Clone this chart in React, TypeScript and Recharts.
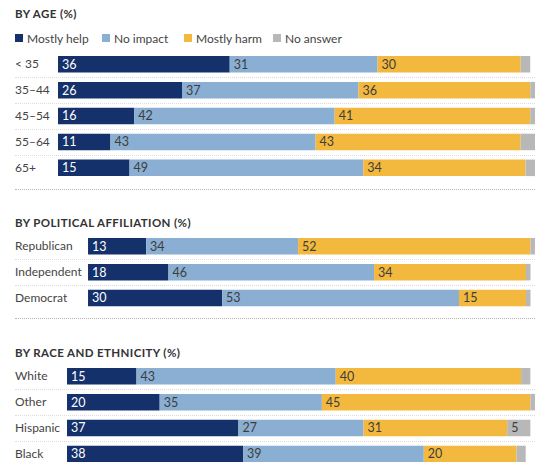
import React from "react";
import { BarChart, Bar, XAxis, YAxis, LabelList } from "recharts";

// ─── Data ───
const ageCategories = ["< 35", "35–44", "45–54", "55–64", "65+"];
const ageHelp = [36, 26, 16, 11, 15];
const ageNoImpact = [31, 37, 42, 43, 49];
const ageHarm = [30, 36, 41, 43, 34];
const ageNoAnswer = [2, 1, 1, 3, 2];

const politicalCategories = ["Republican", "Independent", "Democrat"];
const politicalHelp = [13, 18, 30];
const politicalNoImpact = [34, 46, 53];
const politicalHarm = [52, 34, 15];
const politicalNoAnswer = [1, 1, 1];

const raceCategories = ["White", "Other", "Hispanic", "Black"];
const raceHelp = [15, 20, 37, 38];
const raceNoImpact = [43, 35, 27, 39];
const raceHarm = [40, 45, 31, 20];
const raceNoAnswer = [2, 1, 5, 2];

const seriesNames = ["Mostly help", "No impact", "Mostly harm", "No answer"];
const seriesKeys = ["help", "noImpact", "harm", "noAnswer"];
const seriesColors = ["#15316b", "#8aafd3", "#f3b93f", "#b8b8b8"];
const labelColors = ["#ffffff", "#3d3d3d", "#3d3d3d", "#3d3d3d"];

// ─── Layout ───
const WIDTH = 537;
const HEIGHT = 462;
const PITCH = 25.9;
const BAR = 16.5;
const FONT = "Lato, 'Open Sans', sans-serif";

function buildRows(
  names: string[],
  help: number[],
  noImpact: number[],
  harm: number[],
  noAnswer: number[]
) {
  return names.map((name, i) => ({
    name,
    help: help[i],
    noImpact: noImpact[i],
    harm: harm[i],
    noAnswer: noAnswer[i],
  }));
}

function LeftTick(props: any) {
  const { y, payload } = props;
  return (
    <text x={15} y={y} dy="0.35em" textAnchor="start" fontSize={12} fill="#444" fontFamily={FONT}>
      {payload.value}
    </text>
  );
}

function SectionTitle({ text, y }: { text: string; y: number }) {
  return (
    <div
      style={{
        position: "absolute",
        left: 15,
        top: y - 8,
        height: 16,
        lineHeight: "16px",
        fontSize: 11.5,
        fontWeight: 700,
        color: "#333",
        letterSpacing: 0.4,
        fontFamily: FONT,
        whiteSpace: "nowrap",
      }}
    >
      {text}
    </div>
  );
}

function Separator({ y, strong }: { y: number; strong?: boolean }) {
  return (
    <div
      style={{
        position: "absolute",
        left: 15,
        top: Math.round(y),
        width: 520,
        borderTop: strong ? "1px dotted #b5b5b5" : "1px dotted #dcdcdc",
      }}
    />
  );
}

function Section({
  rows,
  top,
  labelWidth,
}: {
  rows: any[];
  top: number;
  labelWidth: number;
}) {
  const h = rows.length * PITCH;
  return (
    <>
      {rows.slice(1).map((_, i) => (
        <Separator key={i} y={top + (i + 1) * PITCH} />
      ))}
      <div style={{ position: "absolute", left: 0, top }}>
        <BarChart
          width={WIDTH}
          height={h}
          data={rows}
          layout="vertical"
          margin={{ top: 0, right: 2, bottom: 0, left: 0 }}
        >
          <XAxis type="number" hide domain={[0, "dataMax"]} />
          <YAxis
            type="category"
            dataKey="name"
            width={labelWidth}
            axisLine={false}
            tickLine={false}
            tick={<LeftTick />}
          />
          {seriesKeys.map((key, i) => (
            <Bar
              key={key}
              dataKey={key}
              name={seriesNames[i]}
              stackId="a"
              fill={seriesColors[i]}
              barSize={BAR}
              isAnimationActive={false}
            >
              <LabelList
                dataKey={key}
                position="insideLeft"
                offset={4}
                fill={labelColors[i]}
                fontSize={12.5}
                fontFamily={FONT}
                formatter={(v: any) => (Number(v) >= 4 ? v : "")}
              />
            </Bar>
          ))}
        </BarChart>
      </div>
    </>
  );
}

function Legend() {
  const xs = [15, 102, 184, 273];
  return (
    <>
      {seriesNames.map((n, i) => (
        <div
          key={n}
          style={{
            position: "absolute",
            left: xs[i],
            top: 30,
            height: 16,
            display: "flex",
            alignItems: "center",
            fontSize: 12,
            color: "#444",
            fontFamily: FONT,
            whiteSpace: "nowrap",
          }}
        >
          <span
            style={{
              display: "inline-block",
              width: 8,
              height: 8,
              background: seriesColors[i],
              marginRight: 4,
            }}
          />
          {n}
        </div>
      ))}
    </>
  );
}

export default function App() {
  const ageRows = buildRows(ageCategories, ageHelp, ageNoImpact, ageHarm, ageNoAnswer);
  const politicalRows = buildRows(
    politicalCategories,
    politicalHelp,
    politicalNoImpact,
    politicalHarm,
    politicalNoAnswer
  );
  const raceRows = buildRows(raceCategories, raceHelp, raceNoImpact, raceHarm, raceNoAnswer);

  return (
    <div
      style={{
        position: "absolute",
        left: 0,
        top: 0,
        width: WIDTH,
        height: HEIGHT,
        overflow: "hidden",
        background: "#fff",
      }}
    >
      <SectionTitle text="BY AGE (%)" y={14} />
      <Legend />
      <Section rows={ageRows} top={51} labelWidth={58} />
      <Separator y={189} strong />

      <SectionTitle text="BY POLITICAL AFFILIATION (%)" y={223} />
      <Section rows={politicalRows} top={233} labelWidth={88} />
      <Separator y={318} strong />

      <SectionTitle text="BY RACE AND ETHNICITY (%)" y={353} />
      <Section rows={raceRows} top={363.4} labelWidth={67} />
    </div>
  );
}
